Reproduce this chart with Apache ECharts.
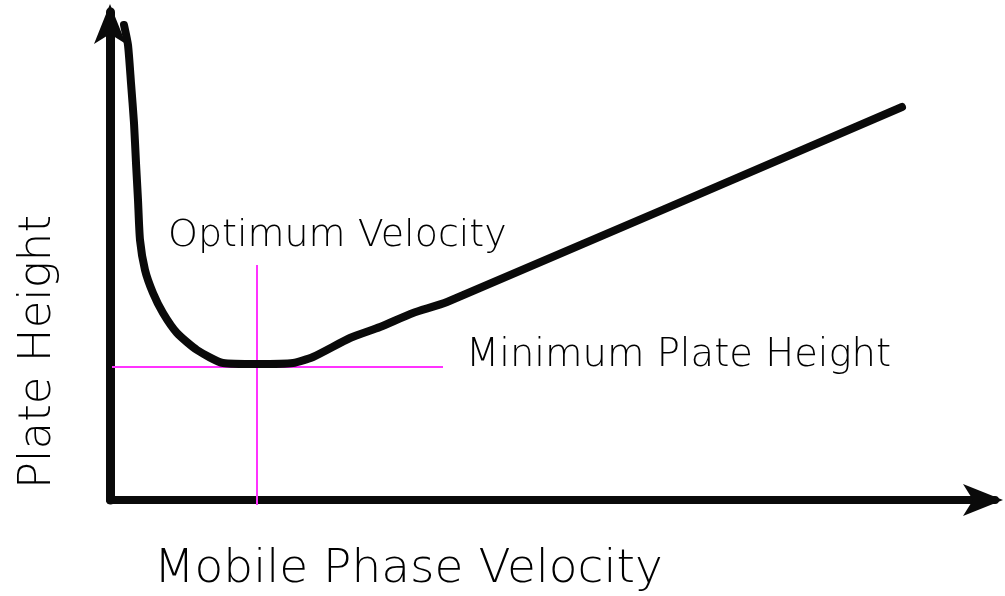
<!DOCTYPE html>
<html>
<head>
<meta charset="utf-8">
<title>Plate Height vs Mobile Phase Velocity</title>
<script src="https://cdn.jsdelivr.net/npm/echarts@6/dist/echarts.min.js"></script>
<style>
    html, body { margin: 0; padding: 0; background: #ffffff; }
    #van-deemter { width: 1005px; height: 596px; }
</style>
</head>
<body>
<div id="van-deemter"></div>
<script>
// =============================== //
//
// Render van Deemter style curve
//
// =============================== //

// Curve (velocity, plate height) in arbitrary units
const curveVelocity = [14, 18, 21, 24, 26, 28, 30, 35, 43, 53, 67, 87, 113, 147, 183, 203, 240, 270, 303, 337, 792];
const curveHeight = [475, 455, 417, 377, 337, 300, 260, 230, 207, 187, 167, 150, 137, 136, 137, 143, 162, 173, 187, 198, 393];

// Guide lines (optimum velocity and minimum plate height)
const optimumLineX = [147, 147];
const optimumLineY = [-5, 235];
const minimumLineX = [2, 333];
const minimumLineY = [133, 133];

// Texts
const xAxisTitle = "Mobile Phase Velocity";
const yAxisTitle = "Plate Height";
const optimumLabel = "Optimum Velocity";
const minimumLabel = "Minimum Plate Height";

// Helper to zip two arrays into [x, y] pairs
function zipPairs(xs, ys) {
    return xs.map((x, i) => [x, ys[i]]);
};

// Select element from DOM and initiate echarts instance
const plotElement = document.getElementById("van-deemter");
const echartsPlot = echarts.init(plotElement, null, { renderer: "canvas" });

const textFont = "\"DejaVu Sans\", sans-serif";

let option = {

    animation: false,
    backgroundColor: "#ffffff",

    // GRID
    grid: {
        left: 110,
        right: 10,
        top: 12,
        bottom: 96,
    },

    // XAXIS
    xAxis: {
        type: "value",
        min: 0,
        max: 885,
        axisLine: {
            show: true,
            symbol: ["none", "arrow"],
            symbolSize: [24, 40],
            symbolOffset: [0, 8],
            lineStyle: { color: "#0a0a0a", width: 8 },
        },
        axisTick: { show: false },
        axisLabel: { show: false },
        splitLine: { show: false },
    },

    // YAXIS
    yAxis: {
        type: "value",
        min: 0,
        max: 488,
        axisLine: {
            show: true,
            symbol: ["none", "arrow"],
            symbolSize: [24, 40],
            symbolOffset: [0, 8],
            lineStyle: { color: "#0a0a0a", width: 9 },
        },
        axisTick: { show: false },
        axisLabel: { show: false },
        splitLine: { show: false },
    },

    // SERIES
    series: [
        {
            name: "optimum",
            type: "line",
            data: zipPairs(optimumLineX, optimumLineY),
            showSymbol: false,
            clip: false,
            z: 3,
            lineStyle: { color: "#ff33ff", width: 2 },
        },
        {
            name: "minimum",
            type: "line",
            data: zipPairs(minimumLineX, minimumLineY),
            showSymbol: false,
            clip: false,
            z: 3,
            lineStyle: { color: "#ff33ff", width: 2 },
        },
        {
            name: "plate height",
            type: "line",
            data: zipPairs(curveVelocity, curveHeight),
            smooth: 0.2,
            showSymbol: false,
            clip: false,
            z: 4,
            lineStyle: { color: "#0a0a0a", width: 8, cap: "round", join: "round" },
        },
    ],

    // TEXTS
    graphic: [
        {
            type: "text",
            x: 154,
            y: 570,
            style: { text: xAxisTitle, font: "200 47px " + textFont, fill: "#000000", textAlign: "left", textVerticalAlign: "middle" },
        },
        {
            type: "text",
            x: 38,
            y: 352,
            rotation: Math.PI / 2,
            style: { text: yAxisTitle, font: "200 45px " + textFont, fill: "#000000", textAlign: "center", textVerticalAlign: "middle" },
        },
        {
            type: "text",
            x: 168,
            y: 236,
            style: { text: optimumLabel, font: "200 38px " + textFont, fill: "#000000", textAlign: "left", textVerticalAlign: "middle" },
        },
        {
            type: "text",
            x: 466,
            y: 356,
            style: { text: minimumLabel, font: "200 38.5px " + textFont, fill: "#000000", textAlign: "left", textVerticalAlign: "middle" },
        },
    ],
};

// Display the chart using the configuration options
echartsPlot.setOption(option);
</script>
</body>
</html>
